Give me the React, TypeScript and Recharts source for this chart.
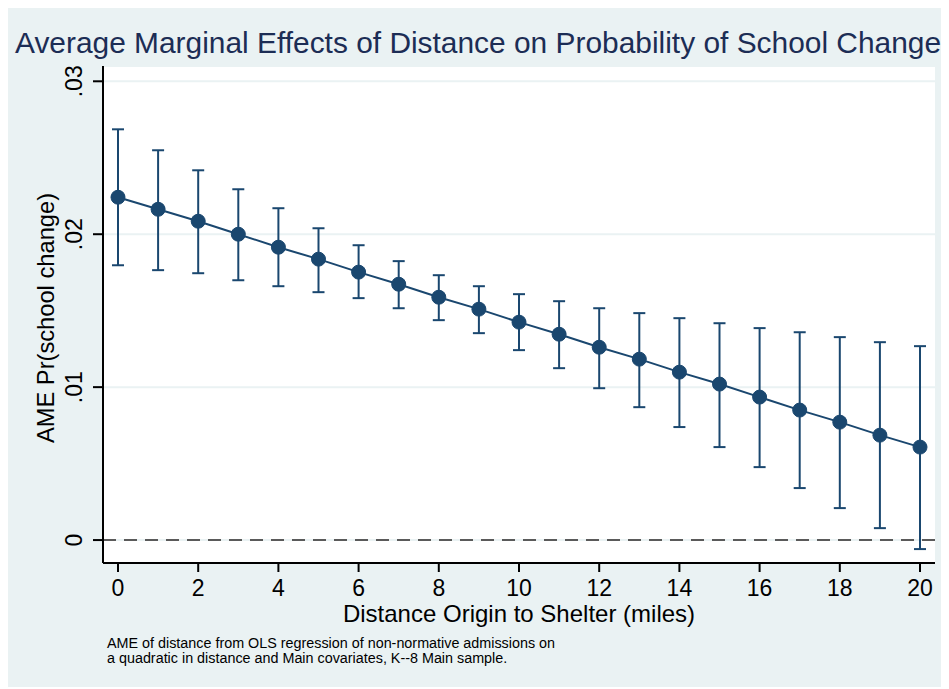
import React from 'react'
import {
  ComposedChart,
  Line,
  ErrorBar,
  XAxis,
  YAxis,
  CartesianGrid,
  ReferenceLine,
  Label,
} from 'recharts'

const distance = [0, 1, 2, 3, 4, 5, 6, 7, 8, 9, 10, 11, 12, 13, 14, 15, 16, 17, 18, 19, 20]
const ame = [
  0.02242, 0.02163, 0.02085, 0.02, 0.01915, 0.01837, 0.01752, 0.01673, 0.01588, 0.0151, 0.01425,
  0.01346, 0.01261, 0.01183, 0.01098, 0.0102, 0.00935, 0.0085, 0.00771, 0.00686, 0.00608,
]
const ciHigh = [
  0.02686, 0.02549, 0.02418, 0.02294, 0.0217, 0.02039, 0.01928, 0.01824, 0.01732, 0.0166, 0.01608,
  0.01562, 0.01516, 0.01484, 0.01451, 0.01418, 0.01386, 0.01359, 0.01327, 0.01294, 0.01268,
]
const ciLow = [
  0.01797, 0.01765, 0.01745, 0.01699, 0.0166, 0.01621, 0.01582, 0.01516, 0.01438, 0.01353, 0.01242,
  0.01124, 0.00993, 0.00869, 0.00739, 0.00608, 0.00477, 0.0034, 0.00209, 0.00078, -0.00059,
]
const xTicks = [0, 2, 4, 6, 8, 10, 12, 14, 16, 18, 20]
const yTicks = [0, 0.01, 0.02, 0.03]

const title = 'Average Marginal Effects of Distance on Probability of School Change'
const xTitle = 'Distance Origin to Shelter (miles)'
const yTitle = 'AME Pr(school change)'
const notes = [
  'AME of distance from OLS regression of non-normative admissions on',
  'a quadratic in distance and Main covariates, K--8 Main sample.',
]

const navy = '#1a476f'
const bg = '#eaf2f3'
const font = '"Liberation Sans", Arial, Helvetica, sans-serif'

const data = distance.map((d, i) => ({
  distance: d,
  ame: ame[i],
  err: [ame[i] - ciLow[i], ciHigh[i] - ame[i]],
}))

const fmtY = (v: number) => (v === 0 ? '0' : String(v).replace(/^0/, ''))

function YTick(props: any) {
  const { x, y, payload } = props
  return (
    <text
      x={x - 9}
      y={y}
      transform={`rotate(-90 ${x - 9} ${y})`}
      textAnchor="middle"
      fontSize={23}
      fontFamily={font}
      fill="#000"
    >
      {fmtY(payload.value)}
    </text>
  )
}

function YTitle(props: any) {
  const vb = props.viewBox || { x: 0, y: 62, width: 95, height: 497 }
  const cx = 45.5
  const cy = vb.y + vb.height / 2 + 3.5
  return (
    <text
      x={cx}
      y={cy}
      transform={`rotate(-90 ${cx} ${cy})`}
      textAnchor="middle"
      fontSize={23.7}
      fontFamily={font}
      fill="#000"
    >
      {yTitle}
    </text>
  )
}

function XTitle(props: any) {
  const vb = props.viewBox || { x: 95, y: 559, width: 832, height: 60 }
  return (
    <text
      x={vb.x + vb.width / 2}
      y={618}
      textAnchor="middle"
      fontSize={24}
      fontFamily={font}
      fill="#000"
    >
      {xTitle}
    </text>
  )
}

export default function App() {
  return (
    <div
      style={{
        position: 'relative',
        width: 941,
        height: 683,
        marginTop: -4,
        background: bg,
        overflow: 'hidden',
        fontFamily: font,
      }}
    >
      <ComposedChart
        width={941}
        height={683}
        data={data}
        margin={{ top: 62, right: 14, left: 0, bottom: 64 }}
      >
        <CartesianGrid
          horizontal
          vertical={false}
          fill="#ffffff"
          fillOpacity={1}
          stroke={bg}
          strokeWidth={2}
        />
        <XAxis
          dataKey="distance"
          type="number"
          domain={[-0.374, 20.374]}
          ticks={xTicks}
          allowDataOverflow
          height={60}
          tickSize={9}
          tickMargin={8}
          axisLine={{ stroke: '#000', strokeWidth: 2 }}
          tickLine={{ stroke: '#000', strokeWidth: 2 }}
          tick={{ fill: '#000', fontSize: 23, fontFamily: font }}
        >
          <Label content={<XTitle />} />
        </XAxis>
        <YAxis
          type="number"
          domain={[-0.0015, 0.031]}
          ticks={yTicks}
          allowDataOverflow
          width={95}
          tickSize={10}
          tickMargin={2}
          axisLine={{ stroke: '#000', strokeWidth: 2 }}
          tickLine={{ stroke: '#000', strokeWidth: 2 }}
          tick={<YTick />}
        >
          <Label content={<YTitle />} />
        </YAxis>
        <ReferenceLine y={0} stroke="#5a5a5a" strokeWidth={2} strokeDasharray="13 8" />
        <Line
          dataKey="ame"
          stroke={navy}
          strokeWidth={2}
          dot={{ r: 7, fill: navy, stroke: navy, strokeWidth: 1 }}
          activeDot={false}
          isAnimationActive={false}
        >
          <ErrorBar dataKey="err" width={6} stroke={navy} strokeWidth={2} isAnimationActive={false} />
        </Line>
      </ComposedChart>
      <svg
        width={941}
        height={683}
        style={{ position: 'absolute', left: 0, top: 0, pointerEvents: 'none' }}
      >
        <text x={7} y={49} fontSize={29.9} fontFamily={font} fill="#1c2d55">
          {title}
        </text>
        {notes.map((n, i) => (
          <text key={i} x={99} y={644 + i * 15} fontSize={14.35} fontFamily={font} fill="#000">
            {n}
          </text>
        ))}
      </svg>
    </div>
  )
}
